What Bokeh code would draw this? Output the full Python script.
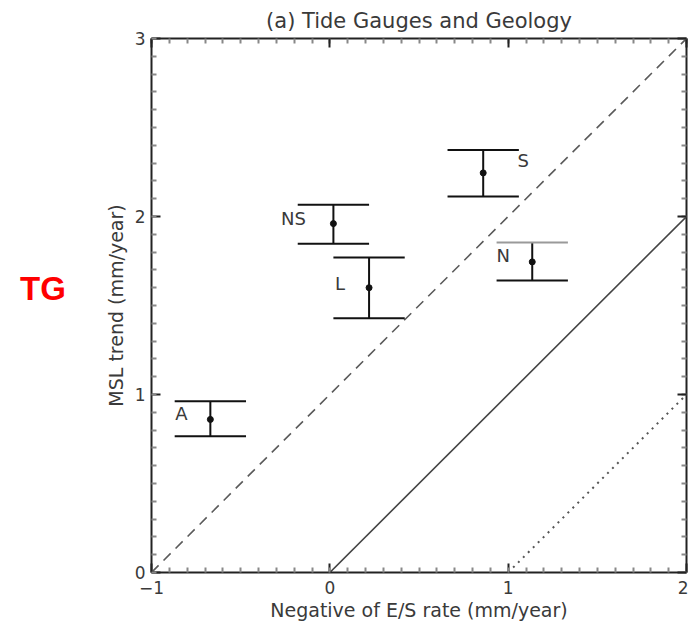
from bokeh.plotting import figure
from bokeh.models import LinearAxis, Range1d, ColumnDataSource, FixedTicker, Div
from bokeh.layouts import row
from bokeh.embed import file_html
from bokeh.resources import INLINE
from bokeh.core.properties import value
import numpy as np

# ---- data ----
stations = ["A", "NS", "L", "S", "N"]
es_rate = [-0.67, 0.02, 0.22, 0.86, 1.135]
msl_trend = [0.86, 1.96, 1.60, 2.245, 1.745]
msl_upper = [0.962, 2.066, 1.770, 2.374, 1.854]
msl_lower = [0.766, 1.847, 1.428, 2.112, 1.641]
cap_half = 0.2

dash_x = [-1, 2]
dash_y = [0, 3]
solid_x = [0, 2]
solid_y = [0, 2]
dot_x = [1, 2]
dot_y = [0, 1]

x_ticks = [-1, 0, 1, 2]
y_ticks = [0, 1, 2, 3]

FONT = "DejaVu Sans"
TXT = "#3a3a3a"

p = figure(frame_width=535, frame_height=534, output_backend="svg", toolbar_location=None,
           x_range=Range1d(-1, 2), y_range=Range1d(0, 3),
           min_border_left=79, min_border_right=2, min_border_top=37, min_border_bottom=56)
p.grid.visible = False
p.outline_line_color = None
p.background_fill_color = "white"
p.border_fill_color = "white"

p.title.text = "(a) Tide Gauges and Geology"
p.title.align = "center"
p.title.text_font = FONT
p.title.text_font_style = "normal"
p.title.text_font_size = "21px"
p.title.text_color = TXT
p.title.standoff = 12
p.title.offset = 0

minor = list(np.round(np.arange(-1, 3.001, 0.1), 2))

def style_axis(ax, ticks):
    ax.ticker = FixedTicker(ticks=ticks, minor_ticks=minor)
    ax.axis_line_color = "#222222"
    ax.axis_line_width = 2
    ax.major_tick_in = 9
    ax.major_tick_out = 0
    ax.minor_tick_in = 5
    ax.minor_tick_out = 0
    ax.major_tick_line_color = "#222222"
    ax.major_tick_line_width = 2
    ax.minor_tick_line_color = "#888888"
    ax.minor_tick_line_width = 2
    ax.major_label_text_font = FONT
    ax.major_label_text_font_size = "17px"
    ax.major_label_text_color = TXT
    ax.axis_label_text_font = FONT
    ax.axis_label_text_font_size = "19px"
    ax.axis_label_text_font_style = "normal"
    ax.axis_label_text_color = TXT

p.xaxis.axis_label = "Negative of E/S rate (mm/year)"
p.yaxis.axis_label = "MSL trend (mm/year)"
style_axis(p.xaxis[0], x_ticks)
style_axis(p.yaxis[0], y_ticks)
p.xaxis.major_label_standoff = 8
p.xaxis.axis_label_standoff = 2
p.yaxis.major_label_standoff = 6
p.yaxis.axis_label_standoff = 5
p.yaxis.major_label_orientation = "horizontal"

# unlabelled box axes on top and right: one for the minor ticks, one for the majors
def box_axis(side, majors):
    a_min = LinearAxis(ticker=FixedTicker(ticks=[], minor_ticks=minor))
    a_min.axis_line_color = "#222222"
    a_min.axis_line_width = 2
    a_min.minor_tick_in = 5
    a_min.minor_tick_out = 0
    a_min.minor_tick_line_color = "#888888"
    a_min.minor_tick_line_width = 2
    a_min.major_tick_in = 0
    a_min.major_tick_out = 0
    a_min.major_label_standoff = 0
    a_maj = LinearAxis(ticker=FixedTicker(ticks=[], minor_ticks=majors))
    a_maj.axis_line_color = None
    a_maj.minor_tick_in = 9
    a_maj.minor_tick_out = 0
    a_maj.minor_tick_line_color = "#222222"
    a_maj.minor_tick_line_width = 2
    a_maj.major_tick_in = 0
    a_maj.major_tick_out = 0
    a_maj.major_label_standoff = 0
    p.add_layout(a_min, side)
    p.add_layout(a_maj, side)

box_axis("above", x_ticks)
box_axis("right", y_ticks)

# reference lines
p.line(dash_x, dash_y, line_color="#5a5a5a", line_width=1.6, line_dash="10 7")
p.line(solid_x, solid_y, line_color="#444444", line_width=1.6)
p.line(dot_x, dot_y, line_color="#555555", line_width=2, line_dash="2 5")

# error bars
xs = np.array(es_rate)
src = ColumnDataSource(dict(
    x=xs, y=msl_trend, lo=msl_lower, hi=msl_upper,
    x0=xs - cap_half, x1=xs + cap_half, name=stations,
    xo=[-29, -40, -29, 40, -29], yo=[-6, -5, -4, -12, -6],
    topc=["#111111", "#111111", "#111111", "#111111", "#9a9a9a"],
))
p.segment(x0="x", y0="lo", x1="x", y1="hi", source=src, line_color="#111111", line_width=2)
p.segment(x0="x0", y0="hi", x1="x1", y1="hi", source=src, line_color="topc", line_width=2)
p.segment(x0="x0", y0="lo", x1="x1", y1="lo", source=src, line_color="#111111", line_width=2)
p.scatter(x="x", y="y", source=src, size=6, color="#111111")
p.text(x="x", y="y", text="name", source=src, x_offset="xo", y_offset="yo",
       text_align="center", text_baseline="middle", text_font=value(FONT),
       text_font_size="18px", text_color=TXT)

# side label
tg = Div(text='<div style="position:absolute; left:15px; top:260px; color:#ff0000; '
              'font-family:\'Liberation Sans\', sans-serif; font-weight:bold; '
              'font-size:33px;">TG</div>',
         width=62, height=620)

layout = row(tg, p)
open("out.html", "w").write(file_html(layout, INLINE))
